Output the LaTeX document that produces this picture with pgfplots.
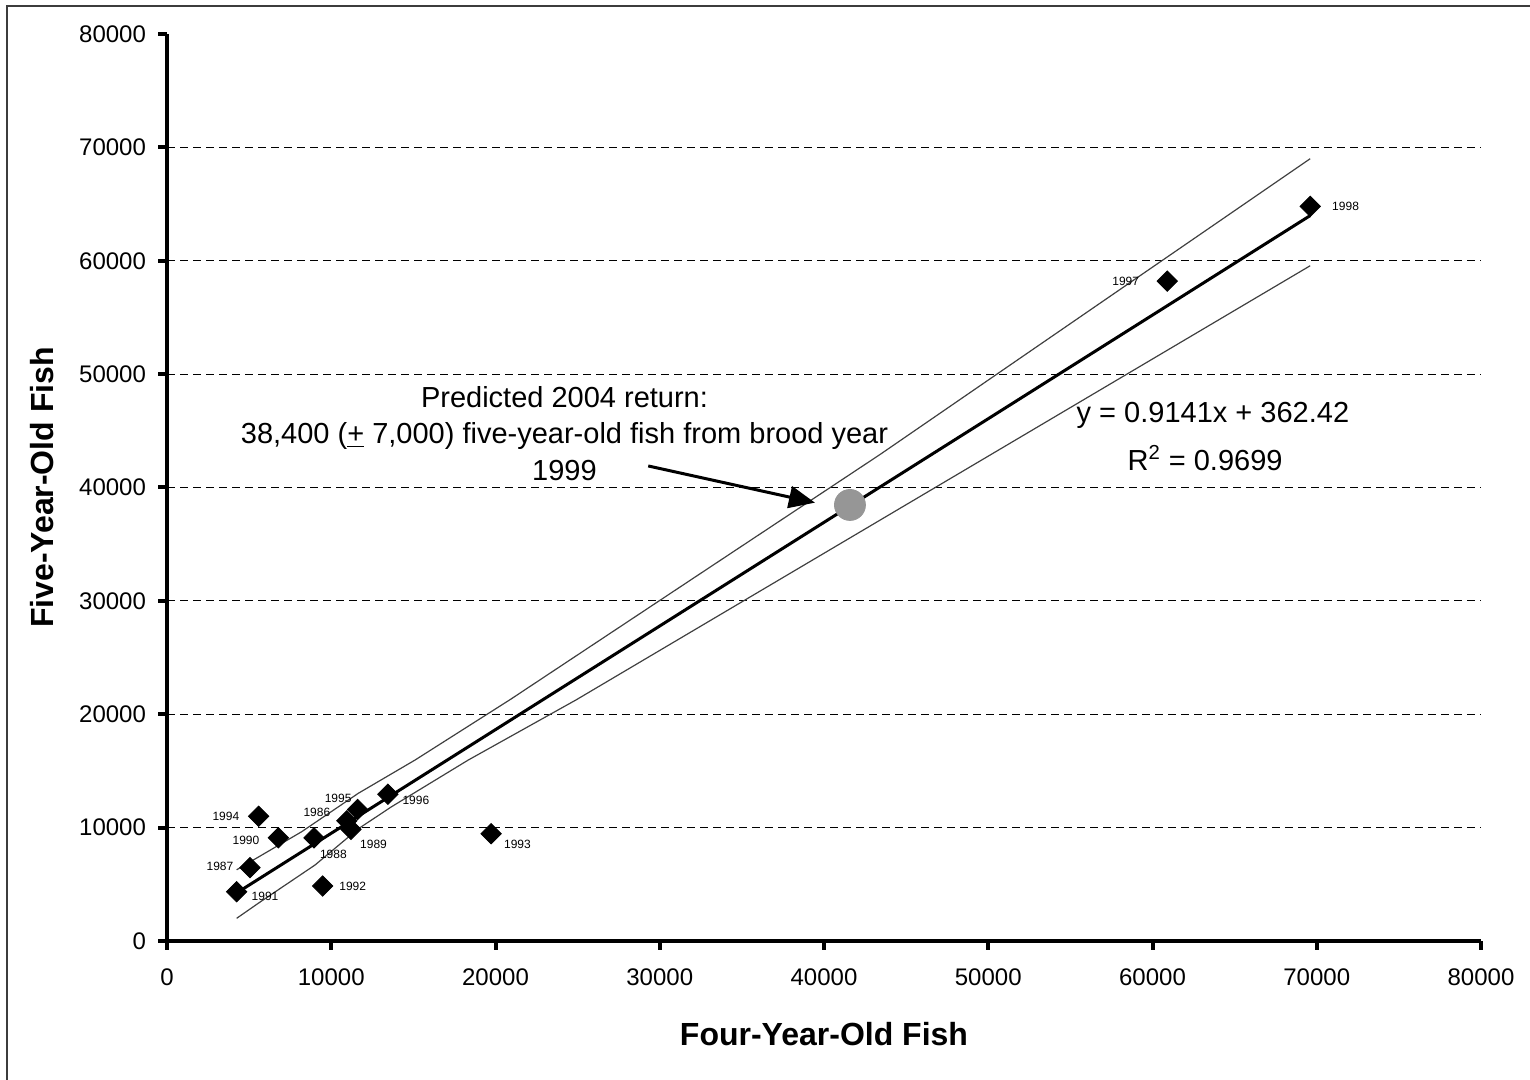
\documentclass[border=0pt]{standalone}
\usepackage{pgfplots}
\pgfplotsset{compat=1.18}
\usepackage{pgfplotstable}
\usepackage{fontspec}
\setmainfont{Liberation Sans}
\usetikzlibrary{arrows.meta}
\definecolor{ciline}{RGB}{64,64,64}
\definecolor{predgray}{RGB}{150,150,150}
\definecolor{framegray}{RGB}{60,60,60}

\pgfplotstableread{
x y label dx dy
10950 10600 1986 -15 4.2
5050 6470 1987 -15 0.5
8950 9100 1988 9.7 -8.2
11200 9850 1989 11.3 -7.3
6780 9100 1990 -16.2 -1.2
4240 4350 1991 14.2 -2.5
9480 4850 1992 15 0
19730 9460 1993 13.2 -5.2
5580 11000 1994 -16.4 0
11600 11600 1995 -9.7 5.5
13450 12950 1996 14 -3
60900 58200 1997 -20.8 0
69600 64800 1998 17.7 0
}\pointstab

\pgfplotstableread{
x y
4240 6280
8200 9640
11650 13030
15100 15960
20900 21300
43400 42900
69600 69000
}\uppertab

\pgfplotstableread{
x y
4240 2000
5560 3330
9010 6700
11650 9900
13680 11850
18340 15960
24900 21260
69600 59560
}\lowertab

\pgfplotstableread{
x y
4240 4238
69600 63984
}\fittab

\begin{document}
\begin{tikzpicture}
\begin{axis}[
  at={(0,0)}, anchor=south west,
  scale only axis, width=657pt, height=453.5pt,
  xmin=0, xmax=80000, ymin=0, ymax=80000,
  xtick={0,10000,...,80000},
  ytick={0,10000,...,70000},
  extra y ticks={80000},
  extra y tick style={grid=none},
  scaled ticks=false,
  /pgf/number format/.cd, fixed, 1000 sep={}, assume math mode=true,
  /pgfplots/.cd,
  axis x line*=bottom, axis y line*=left,
  axis line style={line width=2pt, black},
  tick align=outside,
  major tick length=4.5pt,
  every tick/.style={line width=2pt, black},
  minor tick num=0,
  ymajorgrids,
  major grid style={black, line width=0.5pt, dash pattern=on 4pt off 2.5pt},
  tick label style={font=\fontsize{12}{14}\selectfont},
  yticklabel style={xshift=-2.5pt},
  xticklabel style={yshift=-6pt},
  xlabel={Four-Year-Old Fish},
  ylabel={Five-Year-Old Fish},
  label style={font=\fontsize{16}{19}\selectfont\bfseries},
  xlabel style={at={(axis description cs:0.5,-0.1025)}, anchor=center},
  ylabel style={at={(axis description cs:-0.0951,0.5)}, anchor=center},
  clip=false,
]
% predicted point
\addplot[only marks, mark=*, mark size=7.75pt, mark options={draw=predgray, fill=predgray}]
  coordinates {(41580,38460)};
% prediction interval lines
\addplot[ciline, line width=0.6pt, no marks] table[x=x,y=y] {\uppertab};
\addplot[ciline, line width=0.6pt, no marks] table[x=x,y=y] {\lowertab};
% regression line
\addplot[black, line width=1.5pt, no marks] table[x=x,y=y] {\fittab};
% data points
\addplot[only marks, mark=square*, mark size=3.6pt,
  mark options={rotate=45, black, fill=black},
  point meta=explicit symbolic,
  visualization depends on={\thisrow{dx} \as \dx},
  visualization depends on={\thisrow{dy} \as \dy},
  nodes near coords,
  nodes near coords style={anchor=center, xshift=\dx pt, yshift=\dy pt,
    font=\fontsize{6}{7}\selectfont, black, inner sep=0pt},
] table[x=x, y=y, meta=label] {\pointstab};

% annotations
\node[align=center, font=\fontsize{14.5}{18.2}\selectfont, anchor=center]
  at (axis cs:24200,44760)
  {Predicted 2004 return:\\38,400 (\underline{+} 7,000) five-year-old fish from brood year\\1999};
\draw[line width=1.5pt, -{Triangle[length=13pt, width=11pt]}]
  (axis cs:29300,41900) -- (axis cs:39450,38660);
\node[font=\fontsize{14.5}{17}\selectfont, anchor=center] at (axis cs:63680,46390)
  {y = 0.9141x + 362.42};
\node[font=\fontsize{14.5}{17}\selectfont, anchor=center] at (axis cs:63200,42600)
  {R\textsuperscript{2} = 0.9699};
\end{axis}
\draw[framegray, line width=1pt] (-80pt,-90pt) -- (-80pt,467.25pt) -- (700pt,467.25pt);
\pgfresetboundingbox
\path[use as bounding box] (-83.5pt,-69.5pt) rectangle (681.5pt,470.5pt);
\end{tikzpicture}
\end{document}
